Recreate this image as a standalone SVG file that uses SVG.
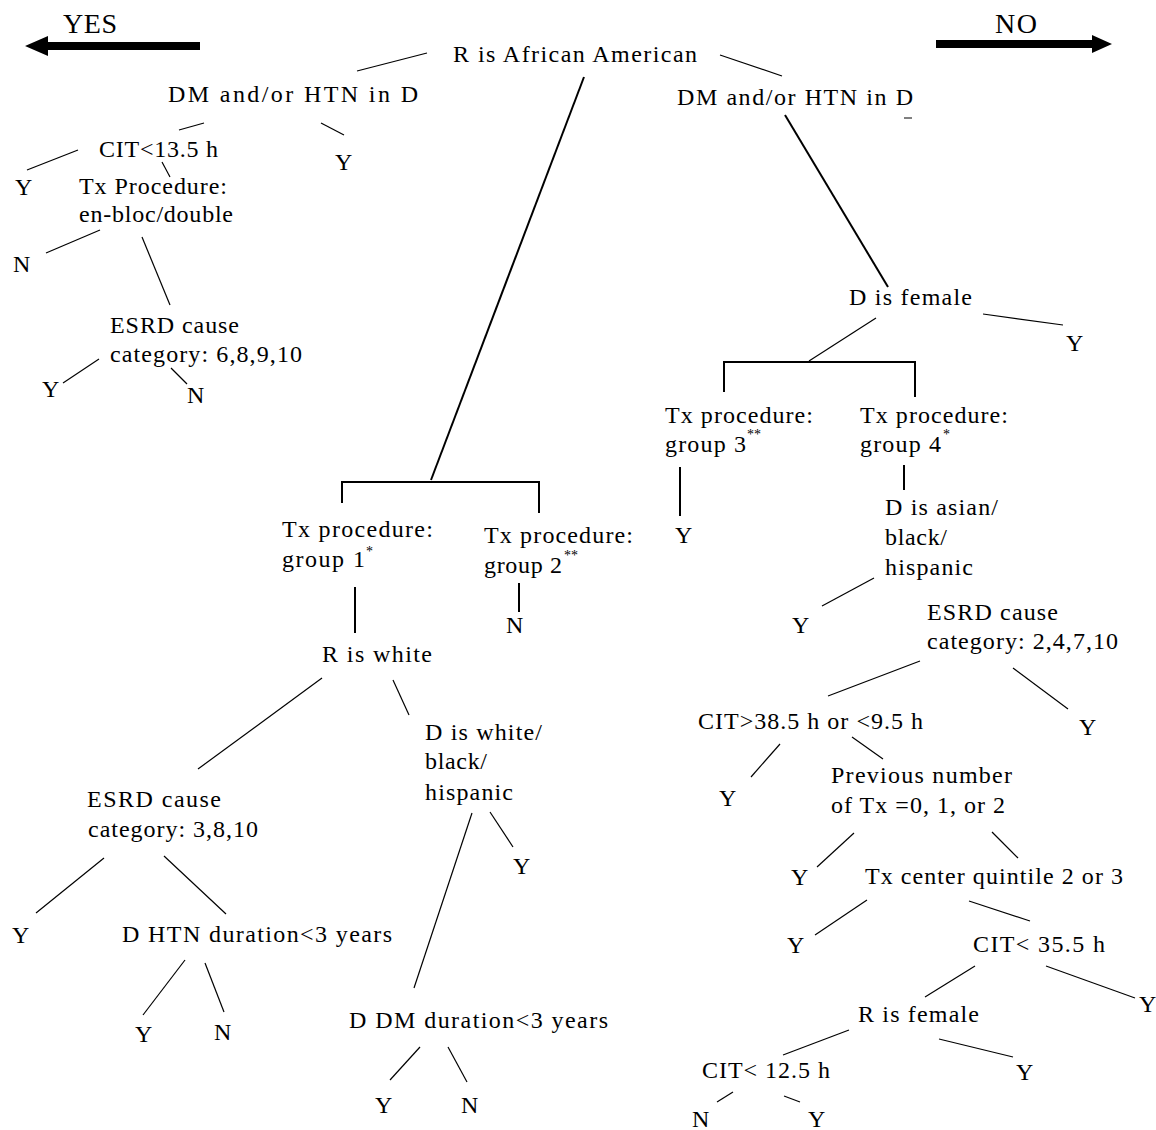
<svg xmlns="http://www.w3.org/2000/svg" width="1156" height="1130" viewBox="0 0 1156 1130">
<style>
.t{font-family:"Liberation Serif","Times New Roman",serif;font-size:24px;fill:#000}
.big{font-size:28px}
.sup{font-size:14px}
.c line,.c polyline{stroke:#000;stroke-width:1.2;fill:none}
.c .thick{stroke-width:2}
</style>
<rect width="1156" height="1130" fill="#fff"/>
<g id="legend">
<text class="t big" x="63" y="33" textLength="54" lengthAdjust="spacing">YES</text>
<path d="M200,42 H48 V36 L25,46 L48,56 V50 H200 Z" fill="#000"/>
<text class="t big" x="995" y="33" textLength="42" lengthAdjust="spacing">NO</text>
<path d="M936,40 H1092 V35 L1112,44 L1092,53 V48 H936 Z" fill="#000"/>
</g>
<g id="connectors" class="c">
<line x1="357" y1="71" x2="427" y2="53"/>
<line x1="720" y1="55" x2="782" y2="76"/>
<line class="thick" x1="584" y1="77" x2="431" y2="480"/>
<line class="thick" x1="785" y1="115" x2="888" y2="287"/>
<line x1="179" y1="130" x2="204" y2="123"/>
<line x1="321" y1="123" x2="344" y2="135"/>
<line x1="78" y1="150" x2="27" y2="170"/>
<line x1="162" y1="162" x2="170" y2="177"/>
<line x1="100" y1="230" x2="46" y2="253"/>
<line x1="142" y1="237" x2="170" y2="305"/>
<line x1="99" y1="359" x2="63" y2="383"/>
<line x1="171" y1="368" x2="187" y2="384"/>
<polyline class="thick" points="342,503 342,482 539,482 539,513"/>
<line class="thick" x1="355" y1="587" x2="355" y2="633"/>
<line class="thick" x1="519" y1="583" x2="519" y2="612"/>
<line x1="322" y1="678" x2="198" y2="769"/>
<line x1="393" y1="680" x2="409" y2="715"/>
<line x1="104" y1="858" x2="36" y2="913"/>
<line x1="164" y1="856" x2="226" y2="914"/>
<line x1="185" y1="960" x2="143" y2="1015"/>
<line x1="205" y1="963" x2="224" y2="1012"/>
<line x1="490" y1="812" x2="513" y2="847"/>
<line x1="472" y1="813" x2="414" y2="988"/>
<line x1="420" y1="1047" x2="390" y2="1080"/>
<line x1="448" y1="1047" x2="467" y2="1082"/>
<line x1="983" y1="314" x2="1063" y2="325"/>
<line x1="876" y1="318" x2="809" y2="361"/>
<polyline class="thick" points="724,392 724,362 915,362 915,397"/>
<line class="thick" x1="680" y1="467" x2="680" y2="516"/>
<line class="thick" x1="904" y1="465" x2="904" y2="490"/>
<line x1="874" y1="578" x2="822" y2="606"/>
<line x1="920" y1="661" x2="828" y2="696"/>
<line x1="1013" y1="668" x2="1068" y2="709"/>
<line x1="780" y1="744" x2="751" y2="777"/>
<line x1="852" y1="737" x2="883" y2="759"/>
<line x1="854" y1="833" x2="817" y2="867"/>
<line x1="992" y1="832" x2="1018" y2="858"/>
<line x1="867" y1="900" x2="815" y2="935"/>
<line x1="969" y1="901" x2="1030" y2="921"/>
<line x1="975" y1="966" x2="925" y2="997"/>
<line x1="1046" y1="966" x2="1135" y2="998"/>
<line x1="849" y1="1030" x2="783" y2="1055"/>
<line x1="939" y1="1039" x2="1013" y2="1057"/>
<line x1="733" y1="1092" x2="717" y2="1102"/>
<line x1="784" y1="1096" x2="800" y2="1102"/>
</g>
<g id="n_root"><text class="t" x="453" y="62" textLength="244" lengthAdjust="spacing">R is African American</text></g>
<g id="n_dm_left"><text class="t" x="168" y="102" textLength="250" lengthAdjust="spacing">DM and/or HTN in D</text></g>
<g id="n_dm_right"><text class="t" x="677" y="105" textLength="236" lengthAdjust="spacing">DM and/or HTN in D</text><line x1="904" y1="118" x2="912" y2="118" stroke="#000" stroke-width="1"/></g>
<g id="n_cit13"><text class="t" x="99" y="157" textLength="119" lengthAdjust="spacing">CIT&lt;13.5 h</text></g>
<g id="leaf_cit13_y"><text class="t" x="15" y="195">Y</text></g>
<g id="leaf_dml_y"><text class="t" x="335" y="170">Y</text></g>
<g id="n_txproc"><text class="t" x="79" y="194" textLength="148" lengthAdjust="spacing">Tx Procedure:</text><text class="t" x="79" y="222" textLength="154" lengthAdjust="spacing">en-bloc/double</text></g>
<g id="leaf_txproc_n"><text class="t" x="13" y="272">N</text></g>
<g id="n_esrd1"><text class="t" x="110" y="333" textLength="129" lengthAdjust="spacing">ESRD cause</text><text class="t" x="110" y="362" textLength="192" lengthAdjust="spacing">category:  6,8,9,10</text></g>
<g id="leaf_esrd1_y"><text class="t" x="42" y="397">Y</text></g>
<g id="leaf_esrd1_n"><text class="t" x="187" y="403">N</text></g>
<g id="n_g1"><text class="t" x="282" y="537" textLength="151" lengthAdjust="spacing">Tx procedure:</text><text class="t" x="282" y="567" textLength="83" lengthAdjust="spacing">group 1</text><text class="t sup" x="366" y="556">*</text></g>
<g id="n_g2"><text class="t" x="484" y="543" textLength="149" lengthAdjust="spacing">Tx procedure:</text><text class="t" x="484" y="573" textLength="78" lengthAdjust="spacing">group 2</text><text class="t sup" x="564" y="560">**</text></g>
<g id="leaf_g2_n"><text class="t" x="506" y="633">N</text></g>
<g id="n_rwhite"><text class="t" x="322" y="662" textLength="110" lengthAdjust="spacing">R is white</text></g>
<g id="n_esrd2"><text class="t" x="87" y="807" textLength="134" lengthAdjust="spacing">ESRD cause</text><text class="t" x="88" y="837" textLength="170" lengthAdjust="spacing">category: 3,8,10</text></g>
<g id="leaf_esrd2_y"><text class="t" x="12" y="943">Y</text></g>
<g id="n_dhtn"><text class="t" x="122" y="942" textLength="270" lengthAdjust="spacing">D HTN duration&lt;3 years</text></g>
<g id="leaf_dhtn_y"><text class="t" x="135" y="1042">Y</text></g>
<g id="leaf_dhtn_n"><text class="t" x="214" y="1040">N</text></g>
<g id="n_dwhite"><text class="t" x="425" y="740" textLength="117" lengthAdjust="spacing">D is white/</text><text class="t" x="425" y="769" textLength="62" lengthAdjust="spacing">black/</text><text class="t" x="425" y="800" textLength="88" lengthAdjust="spacing">hispanic</text></g>
<g id="leaf_dwhite_y"><text class="t" x="513" y="874">Y</text></g>
<g id="n_ddm"><text class="t" x="349" y="1028" textLength="259" lengthAdjust="spacing">D DM duration&lt;3 years</text></g>
<g id="leaf_ddm_y"><text class="t" x="375" y="1113">Y</text></g>
<g id="leaf_ddm_n"><text class="t" x="461" y="1113">N</text></g>
<g id="n_dfem"><text class="t" x="849" y="305" textLength="123" lengthAdjust="spacing">D is female</text></g>
<g id="leaf_dfem_y"><text class="t" x="1066" y="351">Y</text></g>
<g id="n_g3"><text class="t" x="665" y="423" textLength="148" lengthAdjust="spacing">Tx procedure:</text><text class="t" x="665" y="452" textLength="81" lengthAdjust="spacing">group 3</text><text class="t sup" x="747" y="439">**</text></g>
<g id="n_g4"><text class="t" x="860" y="423" textLength="148" lengthAdjust="spacing">Tx procedure:</text><text class="t" x="860" y="452" textLength="81" lengthAdjust="spacing">group 4</text><text class="t sup" x="943" y="439">*</text></g>
<g id="leaf_g3_y"><text class="t" x="675" y="543">Y</text></g>
<g id="n_dasian"><text class="t" x="885" y="515" textLength="113" lengthAdjust="spacing">D is asian/</text><text class="t" x="885" y="545" textLength="62" lengthAdjust="spacing">black/</text><text class="t" x="885" y="575" textLength="88" lengthAdjust="spacing">hispanic</text></g>
<g id="leaf_dasian_y"><text class="t" x="792" y="633">Y</text></g>
<g id="n_esrd3"><text class="t" x="927" y="620" textLength="131" lengthAdjust="spacing">ESRD cause</text><text class="t" x="927" y="649" textLength="191" lengthAdjust="spacing">category: 2,4,7,10</text></g>
<g id="leaf_esrd3_y"><text class="t" x="1079" y="735">Y</text></g>
<g id="n_cit38"><text class="t" x="698" y="729" textLength="225" lengthAdjust="spacing">CIT&gt;38.5 h or &lt;9.5 h</text></g>
<g id="leaf_cit38_y"><text class="t" x="719" y="806">Y</text></g>
<g id="n_prev"><text class="t" x="831" y="783" textLength="181" lengthAdjust="spacing">Previous number</text><text class="t" x="831" y="813" textLength="174" lengthAdjust="spacing">of Tx =0, 1, or 2</text></g>
<g id="leaf_prev_y"><text class="t" x="791" y="885">Y</text></g>
<g id="n_txc"><text class="t" x="865" y="884" textLength="258" lengthAdjust="spacing">Tx center quintile 2 or 3</text></g>
<g id="leaf_txc_y"><text class="t" x="787" y="953">Y</text></g>
<g id="n_cit35"><text class="t" x="973" y="952" textLength="132" lengthAdjust="spacing">CIT&lt; 35.5 h</text></g>
<g id="leaf_cit35_y"><text class="t" x="1139" y="1012">Y</text></g>
<g id="n_rfem"><text class="t" x="858" y="1022" textLength="121" lengthAdjust="spacing">R is female</text></g>
<g id="leaf_rfem_y"><text class="t" x="1016" y="1080">Y</text></g>
<g id="n_cit12"><text class="t" x="702" y="1078" textLength="128" lengthAdjust="spacing">CIT&lt; 12.5 h</text></g>
<g id="leaf_cit12_n"><text class="t" x="692" y="1127">N</text></g>
<g id="leaf_cit12_y"><text class="t" x="808" y="1127">Y</text></g>
</svg>
